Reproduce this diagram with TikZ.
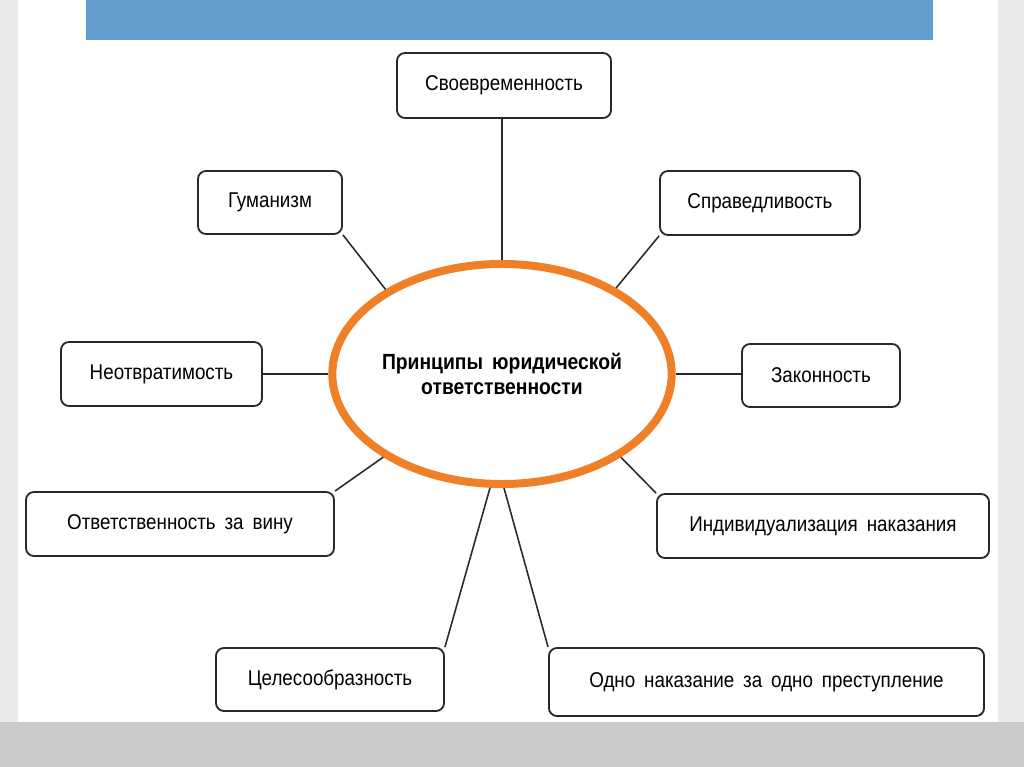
\documentclass[tikz,border=0pt]{standalone}
\usepackage{fontspec}
\setmainfont[WordSpace=1.7, FakeStretch=0.88]{Liberation Sans}
\usetikzlibrary{shapes.geometric, positioning}
\definecolor{barblue}{RGB}{98,157,208}
\definecolor{ringorange}{RGB}{240,128,40}
\definecolor{slidegray}{RGB}{234,234,234}
\definecolor{footgray}{RGB}{202,202,202}
\definecolor{boxline}{RGB}{40,40,40}

\begin{document}
\begin{tikzpicture}[
				x=0.025cm, y=-0.025cm,
				pbox/.style={rectangle, draw=boxline, line width=1.3pt, rounded corners=0.2cm, fill=white, minimum height=1.6cm, align=center, font=\fontsize{15.2}{18}\selectfont},
				hub/.style={ellipse, draw=ringorange, line width=0.2cm, fill=white, inner sep=0pt, minimum width=8.45cm, minimum height=5.5cm, align=center, font=\bfseries\fontsize{15.6}{18}\selectfont},
				link/.style={draw=boxline, line width=1.1pt}
				]
				% Slide background
				\useasboundingbox (0,0) rectangle (1024,767);
				\fill[slidegray] (0,0) rectangle (1024,767);
				\fill[white] (18,0) rectangle (998,722);
				\fill[footgray] (0,722) rectangle (1024,767);
				\fill[barblue] (86,0) rectangle (933,40);
				
				% Central principle
				\node[hub] (hub) at (502,374) {Принципы юридической\\ответственности};
				
				% Surrounding principles
				\node[pbox, minimum width=5.35cm, minimum height=1.625cm] (timely) at (504,85.5) {Своевременность};
				\node[pbox, minimum width=3.6cm, minimum height=1.575cm] (humanism) at (270,202.5) {Гуманизм};
				\node[pbox, minimum width=5.0cm] (justice) at (760,203) {Справедливость};
				\node[pbox, minimum width=5.025cm] (inevit) at (161.5,374) {Неотвратимость};
				\node[pbox, minimum width=3.95cm, minimum height=1.575cm] (legality) at (821,375.5) {Законность};
				\node[pbox, minimum width=7.7cm] (guilt) at (180,524) {Ответственность за вину};
				\node[pbox, minimum width=8.3cm] (individ) at (823,526) {Индивидуализация наказания};
				\node[pbox, minimum width=5.7cm, minimum height=1.575cm] (expedient) at (330,679.5) {Целесообразность};
				\node[pbox, minimum width=10.875cm, minimum height=1.7cm] (onepen) at (766.5,682) {Одно наказание за одно преступление};
				
				% Connectors
				\draw[link] (hub.north) -- (hub.north |- timely.south);
				\draw[link] (hub.144) -- (humanism.south east);
				\draw[link] (hub.37) -- (justice.south west);
				\draw[link] (hub.west) -- (inevit.east);
				\draw[link] (hub.east) -- (hub.east -| legality.west);
				\draw[link] (hub.215) -- (guilt.north east);
				\draw[link] (hub.325) -- (individ.north west);
				\draw[link] (hub.264) -- (expedient.north east);
				\draw[link] (hub.271) -- (onepen.north west);
			\end{tikzpicture}
\end{document}
